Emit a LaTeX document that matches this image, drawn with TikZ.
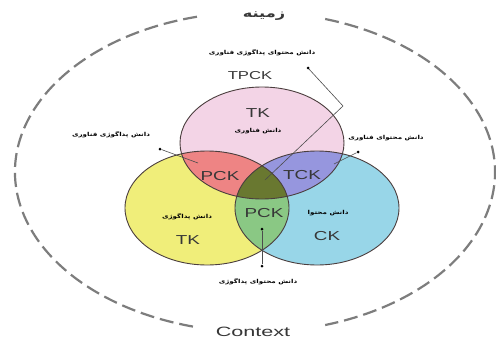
\documentclass[tikz,border=0pt]{standalone}
\usepackage{fontspec}
\setmainfont{Liberation Sans}
\newfontfamily\persianfont[Script=Arabic]{DejaVu Sans}
\TeXXeTstate=1
\usepackage{graphicx}
\usetikzlibrary{positioning}

\definecolor{pinkfill}{RGB}{243,212,230}
\definecolor{yellowfill}{RGB}{240,238,122}
\definecolor{cyanfill}{RGB}{152,214,232}
\definecolor{redfill}{RGB}{238,132,132}
\definecolor{bluefill}{RGB}{150,150,222}
\definecolor{greenfill}{RGB}{138,200,132}
\definecolor{corefill}{RGB}{105,120,48}
\definecolor{edgecol}{RGB}{75,62,62}
\definecolor{dashcol}{RGB}{125,125,125}
\definecolor{labelcol}{RGB}{55,55,55}

% the three knowledge regions
\newcommand*{\techpath}{(262,143) ellipse [x radius=82pt, y radius=56pt]}
\newcommand*{\pedpath}{(207,208) ellipse [x radius=82pt, y radius=57pt]}
\newcommand*{\contpath}{(317,208) ellipse [x radius=82pt, y radius=57pt]}

\newcommand{\fatext}[1]{\scalebox{1.3}[1]{\persianfont\bfseries\beginR #1\endR}}
\newcommand{\widetext}[1]{\scalebox{1.45}[1]{#1}}

\begin{document}
\begin{tikzpicture}[
    x=1pt, y=-1pt,
    region/.style = {draw=edgecol, line width=0.9pt},
    abbr/.style = {font=\fontsize{13}{14}\selectfont, text=labelcol, inner sep=0pt},
    fa/.style = {font=\fontsize{5.5}{6.5}\selectfont, inner sep=0pt},
    dot/.style = {circle, fill=black, inner sep=0pt, minimum size=3pt},
    leader/.style = {draw=black!70, line width=0.6pt},
    context/.style = {draw=dashcol, line width=2.2pt, dash pattern=on 14pt off 6pt}
]
\useasboundingbox (0,0) rectangle (496,343);
\fill[white] (0,0) rectangle (496,343);

% --- Context ring (two arcs, gaps for the titles) ---
\draw[context] (255,172) ++(73:240pt and 160pt)
    arc [start angle=73, end angle=-73, x radius=240pt, y radius=160pt];
\draw[context] (255,172) ++(104:240pt and 160pt)
    arc [start angle=104, end angle=256, x radius=240pt, y radius=160pt];
\node[abbr, font=\fontsize{12}{14}\selectfont] (ctxfa) at (264,16) {\scalebox{1.35}[1]{\persianfont\bfseries\beginR زمینه\endR}};
\node[abbr, font=\fontsize{13.5}{15}\selectfont] (ctxen) at (253,332) {\scalebox{1.6}[1]{Context}};

% --- Filled regions ---
\fill[pinkfill] \techpath;
\fill[yellowfill] \pedpath;
\fill[cyanfill] \contpath;
\begin{scope}
  \clip \techpath;
  \fill[redfill] \pedpath;
  \fill[bluefill] \contpath;
\end{scope}
\begin{scope}
  \clip \pedpath;
  \fill[greenfill] \contpath;
  \clip \contpath;
  \fill[corefill] \techpath;
\end{scope}
\draw[region] \techpath;
\draw[region] \pedpath;
\draw[region] \contpath;

% --- Region labels ---
\node[abbr] (tk) at (258,113) {\widetext{TK}};
\node[fa] (tkfa) at (258,131) {\fatext{دانش فناوری}};
\node[abbr] (tpk) at (220,176) {\widetext{PCK}};
\node[abbr] (tck) at (302,175) {\widetext{TCK}};
\node[abbr] (pck) at (264,213) {\widetext{PCK}};
\node[fa] (pkfa) at (187,217) {\fatext{دانش پداگوژی}};
\node[abbr] (pk) at (188,240) {\widetext{TK}};
\node[fa] (ckfa) at (328,213) {\fatext{دانش محتوا}};
\node[abbr] (ck) at (327,236) {\widetext{CK}};

% --- Outside labels with leader lines ---
\node[fa] (tpckfa) at (262,53) {\fatext{دانش محتوای پداگوژی فناوری}};
\node[abbr, font=\fontsize{11.5}{13}\selectfont] (tpck) at (250,76) {\widetext{TPCK}};
\node[dot] (tpckdot) at (308,68) {};
\coordinate (tpckbend) at (343,106);
\coordinate (tpckend) at (265,180);
\draw[leader] (tpckdot) -- (tpckbend) -- (tpckend);

\node[fa] (tpkfa) at (111,135) {\fatext{دانش پداگوژی فناوری}};
\node[dot] (tpkdot) at (160,149) {};
\coordinate (tpkend) at (198,163);
\draw[leader] (tpkdot) -- (tpkend);

\node[fa] (tckfa) at (386,138) {\fatext{دانش محتوای فناوری}};
\node[dot] (tckdot) at (358,152) {};
\coordinate (tckend) at (334,164);
\draw[leader] (tckdot) -- (tckend);

\node[dot] (pckdot) at (262,229) {};
\node[dot] (pckfoot) at (262,266) {};
\draw[leader] (pckdot) -- (pckfoot);
\node[fa] (pckfa) at (258,282) {\fatext{دانش محتوای پداگوژی}};

\end{tikzpicture}
\end{document}
